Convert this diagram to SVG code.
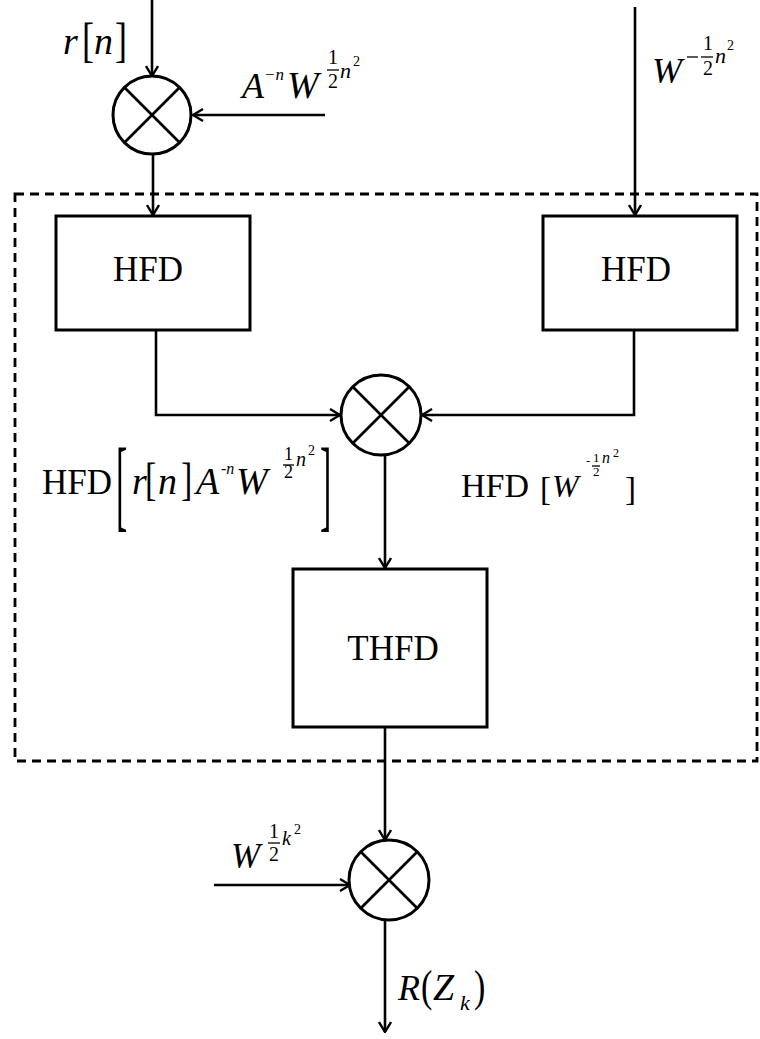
<svg xmlns="http://www.w3.org/2000/svg" width="760" height="1039" viewBox="0 0 760 1039">
  <style>
    .box { fill: #fff; stroke: #000; stroke-width: 3; }
    .mul { fill: #fff; stroke: #000; stroke-width: 3; }
    .x { stroke: #000; stroke-width: 2.6; }
    .wire { fill: none; stroke: #000; stroke-width: 2.6; }
    .frame { fill: none; stroke: #000; stroke-width: 2.8; stroke-dasharray: 9 6; }
    .bar { stroke: #000; stroke-width: 1.3; }
    text { font-family: "Liberation Serif", "Times New Roman", serif; fill: #000; }
    .lbl { font-size: 35px; }
    .it { font-style: italic; }
  </style>
  <defs>
    <marker id="arrow" viewBox="0 0 12 14" refX="11" refY="7" markerWidth="12" markerHeight="14" markerUnits="userSpaceOnUse" orient="auto">
      <path d="M1,1 L11,7 L1,13" fill="none" stroke="#000" stroke-width="2.4"/>
    </marker>
  </defs>

  <rect width="760" height="1039" fill="#fff"/>

  <!-- dashed enclosure around the transform stage -->
  <rect class="frame" x="15" y="194" width="742" height="567"/>

  <g id="connectors">
    <line class="wire" x1="152" y1="0" x2="152" y2="76" marker-end="url(#arrow)"/>
    <line class="wire" x1="325" y1="115" x2="193" y2="115" marker-end="url(#arrow)"/>
    <line class="wire" x1="153" y1="155" x2="153" y2="215" marker-end="url(#arrow)"/>
    <line class="wire" x1="635" y1="7" x2="635" y2="215" marker-end="url(#arrow)"/>
    <polyline class="wire" points="156,330 156,415 340,415" marker-end="url(#arrow)"/>
    <polyline class="wire" points="634,330 634,415 422,415" marker-end="url(#arrow)"/>
    <line class="wire" x1="385" y1="455" x2="385" y2="568" marker-end="url(#arrow)"/>
    <line class="wire" x1="385" y1="727" x2="385" y2="840" marker-end="url(#arrow)"/>
    <line class="wire" x1="214" y1="885" x2="350" y2="885" marker-end="url(#arrow)"/>
    <line class="wire" x1="385" y1="920" x2="385" y2="1032" marker-end="url(#arrow)"/>
  </g>

  <g id="mul-in">
    <circle class="mul" cx="152" cy="115" r="39"/>
    <line class="x" x1="124" y1="87" x2="180" y2="143"/>
    <line class="x" x1="180" y1="87" x2="124" y2="143"/>
  </g>

  <g id="hfd-left">
    <rect class="box" x="56" y="216" width="194" height="114"/>
    <text class="lbl" x="148" y="281" text-anchor="middle">HFD</text>
  </g>

  <g id="hfd-right">
    <rect class="box" x="543" y="216" width="194" height="114"/>
    <text class="lbl" x="636" y="281" text-anchor="middle">HFD</text>
  </g>

  <g id="mul-mid">
    <circle class="mul" cx="381" cy="415" r="40"/>
    <line class="x" x1="353" y1="387" x2="409" y2="443"/>
    <line class="x" x1="409" y1="387" x2="353" y2="443"/>
  </g>

  <g id="thfd">
    <rect class="box" x="293" y="569" width="194" height="158"/>
    <text class="lbl" x="393" y="660" text-anchor="middle">THFD</text>
  </g>

  <g id="mul-out">
    <circle class="mul" cx="389" cy="880" r="40"/>
    <line class="x" x1="361" y1="852" x2="417" y2="908"/>
    <line class="x" x1="417" y1="852" x2="361" y2="908"/>
  </g>

  <!-- input r[n] -->
  <g id="lbl-rn">
    <text class="it" x="63" y="54" font-size="38">r</text>
    <text transform="translate(82,56) scale(1,1.35)" font-size="36">[</text>
    <text class="it" x="94" y="54" font-size="38">n</text>
    <text transform="translate(115,56) scale(1,1.35)" font-size="36">]</text>
  </g>

  <!-- chirp pre-multiplier A^-n W^(n^2/2) -->
  <g id="lbl-chirp-in">
    <text class="it" x="242" y="98" font-size="36">A</text>
    <text class="it" x="264" y="80" font-size="17">−n</text>
    <text class="it" x="287" y="98" font-size="38">W</text>
    <text x="328" y="64" font-size="20">1</text>
    <line class="bar" x1="327" y1="70" x2="339" y2="70"/>
    <text x="328" y="88" font-size="20">2</text>
    <text class="it" x="340" y="78" font-size="22">n</text>
    <text x="353" y="66" font-size="14">2</text>
  </g>

  <!-- W^(-n^2/2) -->
  <g id="lbl-chirp-ref">
    <text class="it" x="652" y="83" font-size="36">W</text>
    <line class="bar" x1="687" y1="57" x2="698" y2="57"/>
    <text x="703" y="50" font-size="20">1</text>
    <line class="bar" x1="701" y1="57" x2="713" y2="57"/>
    <text x="703" y="75" font-size="20">2</text>
    <text class="it" x="715" y="63" font-size="22">n</text>
    <text x="727" y="50" font-size="14">2</text>
  </g>

  <!-- HFD[ r[n] A^-n W^(n^2/2) ] -->
  <g id="lbl-hfd-left">
    <text x="42" y="494" font-size="35">HFD</text>
    <text transform="translate(116,518) scale(1,3)" font-size="34">[</text>
    <text class="it" x="132" y="494" font-size="38">r</text>
    <text transform="translate(145,495) scale(1,1.35)" font-size="34">[</text>
    <text class="it" x="158" y="494" font-size="38">n</text>
    <text transform="translate(181,495) scale(1,1.35)" font-size="34">]</text>
    <text class="it" x="196" y="494" font-size="38">A</text>
    <text class="it" x="221" y="474" font-size="16">-n</text>
    <text class="it" x="236" y="494" font-size="38">W</text>
    <text x="284" y="460" font-size="18">1</text>
    <line class="bar" x1="283" y1="465" x2="294" y2="465"/>
    <text x="284" y="478" font-size="18">2</text>
    <text class="it" x="296" y="466" font-size="20">n</text>
    <text x="308" y="455" font-size="14">2</text>
    <text transform="translate(320,518) scale(1,3)" font-size="34">]</text>
  </g>

  <!-- HFD[W^(-n^2/2)] -->
  <g id="lbl-hfd-right">
    <text x="461" y="497" font-size="34">HFD</text>
    <text x="540" y="500" font-size="33">[</text>
    <text class="it" x="552" y="497" font-size="32">W</text>
    <text x="586" y="465" font-size="13">-</text>
    <text x="593" y="462" font-size="13">1</text>
    <line class="bar" x1="592" y1="466" x2="600" y2="466"/>
    <text x="593" y="476" font-size="13">2</text>
    <text class="it" x="602" y="463" font-size="16">n</text>
    <text x="613" y="457" font-size="12">2</text>
    <text x="625" y="500" font-size="33">]</text>
  </g>

  <!-- post-multiplier W^(k^2/2) -->
  <g id="lbl-chirp-out">
    <text class="it" x="231" y="868" font-size="35">W</text>
    <text x="269" y="838" font-size="20">1</text>
    <line class="bar" x1="268" y1="843" x2="280" y2="843"/>
    <text x="269" y="861" font-size="20">2</text>
    <text class="it" x="282" y="845" font-size="20">k</text>
    <text x="294" y="834" font-size="14">2</text>
  </g>

  <!-- output R(Z_k) -->
  <g id="lbl-out">
    <text class="it" x="398" y="1000" font-size="36">R</text>
    <text transform="translate(421,1001) scale(1,1.3)" font-size="34">(</text>
    <text class="it" x="433" y="1000" font-size="38">Z</text>
    <text class="it" x="460" y="1010" font-size="22">k</text>
    <text transform="translate(474,1001) scale(1,1.3)" font-size="34">)</text>
  </g>
</svg>
